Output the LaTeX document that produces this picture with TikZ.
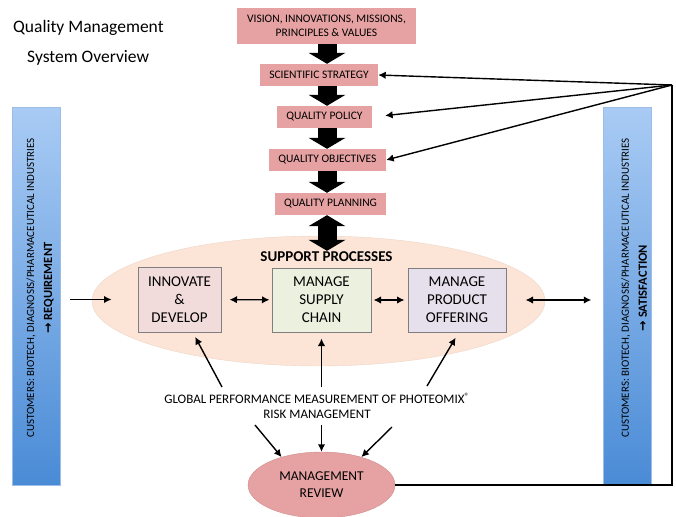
\documentclass[tikz,border=0pt]{standalone}
\usepackage{fontspec}
\setmainfont{Carlito}
\newfontfamily\arrowfont{DejaVu Sans}
\usepackage{xcolor}
\usetikzlibrary{arrows.meta}
\usetikzlibrary{shapes.geometric}

\definecolor{pinkbox}{HTML}{E6A2A2}
\definecolor{reviewedge}{HTML}{CF8C8C}
\definecolor{peach}{HTML}{FCE5D7}
\definecolor{peachedge}{HTML}{EDD6C8}
\definecolor{innofill}{HTML}{F2DCDB}
\definecolor{chainfill}{HTML}{EBF1DE}
\definecolor{offerfill}{HTML}{E5E0EC}
\definecolor{boxedge}{HTML}{7F7F7F}
\definecolor{barlight}{HTML}{A9CBF4}
\definecolor{bardark}{HTML}{4A8BD6}
\definecolor{barline}{HTML}{9DBDE6}

\begin{document}
\begin{tikzpicture}[x=1pt, y=-1pt,
	stackbox/.style={fill=pinkbox, inner sep=0pt, minimum height=22pt, align=center, font=\fontsize{11.5}{14}\selectfont},
	procbox/.style={draw=boxedge, line width=1pt, inner sep=0pt, minimum height=64pt, align=center, font=\fontsize{15}{18}\selectfont},
	custbar/.style={draw=barline, top color=barlight, bottom color=bardark, minimum width=48pt, minimum height=378pt, inner sep=0pt},
	custtext/.style={rotate=90, align=center, inner sep=0pt, font=\fontsize{11}{18}\selectfont},
	arr/.style={line width=1.4pt, -{Latex[length=7.5pt, width=7.5pt]}},
	dblarr/.style={line width=1.4pt, {Latex[length=7.5pt, width=7.5pt]}-{Latex[length=7.5pt, width=7.5pt]}},
	fatarrow/.style={line width=19pt, -{Triangle[length=11pt, width=37pt, line width=0pt]}},
	fatdbl/.style={line width=19pt, {Triangle[length=11pt, width=37pt, line width=0pt]}-{Triangle[length=11pt, width=37pt, line width=0pt]}}]
	\useasboundingbox (0,0) rectangle (676,516);

	\node[anchor=west, inner sep=0pt, font=\fontsize{17.5}{20}\selectfont] (title1) at (13,28) {Quality Management};
	\node[anchor=west, inner sep=0pt, font=\fontsize{17.5}{20}\selectfont] (title2) at (27,58) {System Overview};

	\coordinate (spine) at (327,0);
	\node[stackbox, minimum width=179pt, minimum height=36pt] (vision) at (326.5,26) {VISION, INNOVATIONS, MISSIONS,\\PRINCIPLES \& VALUES};
	\foreach \bname/\bx/\by/\bw/\btext in {strategy/319/75/118/SCIENTIFIC STRATEGY, policy/324.5/117/95/QUALITY POLICY, objectives/327.5/160/117/QUALITY OBJECTIVES, planning/330.5/204/111/QUALITY PLANNING}
	{
		\node[stackbox, minimum width=\bw pt] (\bname) at (\bx,\by) {\btext};
	}
	\foreach \a/\b in {vision/strategy, strategy/policy, policy/objectives, objectives/planning}
	{
		\draw[fatarrow] (spine |- \a.south) -- (spine |- \b.north);
	}

	\node[ellipse, fill=peach, draw=peachedge, minimum width=453pt, minimum height=130pt, inner sep=0pt] (support) at (318.5,301) {};
	\node[inner sep=1pt, font=\bfseries\fontsize{15}{18}\selectfont] (sptitle) at (326.5,257) {SUPPORT PROCESSES};
	\draw[fatdbl] (spine |- planning.south) -- (spine |- sptitle.north);

	\node[procbox, fill=innofill, minimum width=83pt, minimum height=65pt] (innovate) at (179.5,299.5) {INNOVATE\\\&\\DEVELOP};
	\node[procbox, fill=chainfill, minimum width=99pt] (chain) at (321.5,300) {MANAGE\\SUPPLY\\CHAIN};
	\node[procbox, fill=offerfill, minimum width=98pt] (offering) at (457,300) {MANAGE\\PRODUCT\\OFFERING};

	\node[custbar] (leftbar) at (36,296) {};
	\node[custtext] (lefttext) at (40,288) {CUSTOMERS: BIOTECH, DIAGNOSIS/PHARMACEUTICAL INDUSTRIES\\{\fontsize{12.5}{18}\selectfont{\bfseries\arrowfont →} \textbf{REQUIREMENT}}};
	\node[custbar] (rightbar) at (627.5,296) {};
	\node[custtext] (righttext) at (634,288) {CUSTOMERS: BIOTECH, DIAGNOSIS/PHARMACEUTICAL INDUSTRIES\\{\fontsize{12.5}{18}\selectfont{\bfseries\arrowfont →} \textbf{SATISFACTION}}};

	\draw[arr, shorten <=10pt, shorten >=26pt] (leftbar.east |- innovate.west) -- (innovate.west);
	\draw[dblarr, shorten <=8pt, shorten >=2pt] (innovate) -- (chain);
	\draw[dblarr, shorten <=2pt, shorten >=3pt] (chain) -- (offering);
	\draw[dblarr, shorten <=19pt, shorten >=12pt] (offering.east) -- (rightbar.west |- offering.east);

	\node[align=center, inner sep=0pt, font=\fontsize{13}{15}\selectfont] (global) at (317,406) {GLOBAL PERFORMANCE MEASUREMENT OF PHOTEOMIX\textsuperscript{®}\\RISK MANAGEMENT};
	\coordinate (upa) at (222,387);
	\coordinate (upb) at (321.5,387);
	\coordinate (upc) at (427,386);
	\draw[arr, shorten >=5pt] (upa) -- (innovate.-68);
	\draw[arr, shorten >=6pt] (upb) -- (chain.south);
	\draw[arr, shorten >=6pt] (upc) -- (offering.-87);

	\node[ellipse, fill=pinkbox, draw=reviewedge, minimum width=147pt, minimum height=66pt, inner sep=0pt, align=center, font=\fontsize{13.5}{17}\selectfont] (review) at (321.5,485) {MANAGEMENT\\REVIEW};
	\coordinate (downa) at (255,425);
	\coordinate (downb) at (321.5,425);
	\coordinate (downc) at (392,427);
	\draw[arr] (downa) -- (review.145);
	\draw[arr] (downb) -- (review.north);
	\draw[arr] (downc) -- (review.35);

	\coordinate (corner) at (672,85);
	\draw[line width=1.4pt] (review.east) -| (corner);
	\draw[arr] (corner) -- (strategy.east);
	\draw[arr, shorten >=13pt] (corner) -- (policy.east);
	\draw[arr] (corner) -- (objectives.east);
\end{tikzpicture}
\end{document}
